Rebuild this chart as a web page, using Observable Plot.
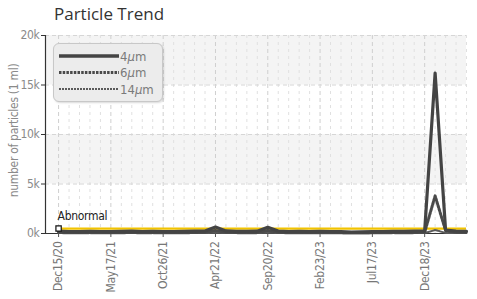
<!DOCTYPE html>
<html>
<head>
<meta charset="utf-8">
<script src="https://cdn.jsdelivr.net/npm/d3@7"></script>
<script src="https://cdn.jsdelivr.net/npm/@observablehq/plot@0.6"></script>
<style>
  html, body { margin: 0; padding: 0; background: #fff; }
  #wrap { position: relative; width: 477px; height: 299px; overflow: hidden; }
  #title { height: 28px; font-family: "Open Sans", sans-serif; font-size: 17px; color: #333; padding-left: 54px; line-height: 28px; box-sizing: border-box; }
  #legend { position: absolute; left: 53px; top: 43px; width: 108px; height: 57px; background: #ececec; border: 1px solid #c8c8c8; border-radius: 6px; box-shadow: 1px 1px 2px rgba(0,0,0,0.15); }
</style>
</head>
<body>
<div id="wrap">
  <div id="title">Particle Trend</div>
  <div id="chart"></div>
  <div id="legend"></div>
</div>
<script>
// ---- data ----
const tickLabels = ["Dec15/20", "May17/21", "Oct26/21", "Apr21/22", "Sep20/22", "Feb23/23", "Jul17/23", "Dec18/23"];
const labelEvery = 5;
const series = ["4\u00b5m", "6\u00b5m", "14\u00b5m"];
const size4  = [250, 200, 180, 220, 200, 190, 210, 230, 200, 220, 200, 180, 210, 230, 250, 650, 260, 220, 210, 230, 620, 250, 200, 210, 190, 220, 200, 180, 150, 160, 180, 200, 220, 210, 230, 250, 16200, 350, 250, 220];
const size6  = [120, 100, 90, 110, 100, 95, 105, 110, 100, 105, 100, 90, 100, 110, 120, 300, 120, 110, 100, 110, 300, 120, 100, 105, 95, 110, 100, 90, 75, 80, 90, 100, 110, 105, 110, 120, 3800, 300, 130, 110];
const size14 = [40, 35, 30, 38, 35, 32, 36, 40, 35, 38, 35, 30, 35, 40, 42, 90, 42, 38, 35, 38, 90, 42, 35, 36, 32, 38, 35, 30, 25, 28, 30, 35, 38, 36, 38, 42, 350, 60, 45, 40];
const abnormalLevel = 500;
const yTicks = [0, 5000, 10000, 15000, 20000];
const bands = [[5000, 10000], [15000, 20000]];

const n = size4.length;
const idx = d3.range(n);
const majorIdx = tickLabels.map((_, i) => i * labelEvery);
const rows = (arr, s) => arr.map((v, i) => ({i, v, s}));

const cond = '"Liberation Sans Narrow", "DejaVu Sans Condensed", Roboto, sans-serif';
const xDomain = [-1.25, n - 1];

const chart = Plot.plot({
  width: 477,
  height: 271,
  marginTop: 7,
  marginBottom: 66,
  marginLeft: 45,
  marginRight: 11,
  style: {fontFamily: cond, fontSize: "11px", background: "transparent", overflow: "visible", letterSpacing: "-0.3px"},
  x: {domain: xDomain, axis: null},
  y: {domain: [0, 20000], axis: null},
  marks: [
    Plot.rect(bands, {y1: d => d[0], y2: d => d[1], fill: "#f4f4f4"}),
    Plot.ruleX(idx.filter(i => i % labelEvery !== 0), {stroke: "#e0e0e0", strokeDasharray: "3,4"}),
    Plot.ruleX(majorIdx, {stroke: "#cfcfcf", strokeDasharray: "4,3"}),
    Plot.ruleY(yTicks.filter(d => d > 0), {stroke: "#d6d6d6", strokeDasharray: "4,3"}),
    Plot.ruleX([xDomain[0]], {stroke: "#333", strokeWidth: 1.2}),
    Plot.ruleY([0], {stroke: "#333", strokeWidth: 1.2}),
    Plot.axisY({ticks: yTicks, tickFormat: d => (d / 1000) + "k", tickSize: 4, tickPadding: 2, stroke: "#333", fill: "#8a8a8a", fontSize: 12, label: null}),
    Plot.axisX({ticks: majorIdx, tickFormat: d => tickLabels[d / labelEvery], tickRotate: -90, tickSize: 4, tickPadding: 4, stroke: "#555", fill: "#777", fontSize: 12, label: null}),
    Plot.text(["number of particles (1 ml)"], {frameAnchor: "left", textAnchor: "middle", dx: -31, dy: -4, rotate: -90, fill: "#8a8a8a", fontSize: 12}),
    Plot.ruleY([abnormalLevel], {x1: 0, x2: n - 1, stroke: "#f2c300", strokeWidth: 2.2}),
    Plot.line(rows(size14, series[2]), {x: "i", y: "v", stroke: "#5a5a5a", strokeWidth: 2, strokeDasharray: "2,1"}),
    Plot.line(rows(size6, series[1]), {x: "i", y: "v", stroke: "#4a4a4a", strokeWidth: 3, strokeDasharray: "2.5,1.2"}),
    Plot.line(rows(size4, series[0]), {x: "i", y: "v", stroke: "#444", strokeWidth: 3.2}),
    Plot.dot([abnormalLevel], {x: () => 0, y: d => d, symbol: "square", r: 3, fill: "white", stroke: "#111", strokeWidth: 1.2}),
    Plot.text(["Abnormal"], {x: () => 0, y: () => abnormalLevel, dy: -12, dx: -1, textAnchor: "start", fill: "#222", fontSize: 12})
  ]
});
document.getElementById("chart").appendChild(chart);

// legend
const styles = [
  {w: 3.5, dash: null, c: "#444"},
  {w: 3, dash: "2.5,1.2", c: "#4a4a4a"},
  {w: 2, dash: "2,1", c: "#5a5a5a"}
];
const lg = d3.select("#legend").append("svg").attr("width", 108).attr("height", 57);
series.forEach((s, k) => {
  const y = 12 + k * 16.5;
  lg.append("line").attr("x1", 5).attr("x2", 65).attr("y1", y).attr("y2", y)
    .attr("stroke", styles[k].c).attr("stroke-width", styles[k].w)
    .attr("stroke-dasharray", styles[k].dash);
  const t = lg.append("text").attr("x", 66).attr("y", y + 4.5).attr("fill", "#7a7a7a")
    .attr("font-size", 13).attr("font-family", cond);
  t.append("tspan").text(s.replace("\u00b5m", ""));
  t.append("tspan").attr("font-style", "italic").text("\u00b5");
  t.append("tspan").text("m");
});
</script>
</body>
</html>
